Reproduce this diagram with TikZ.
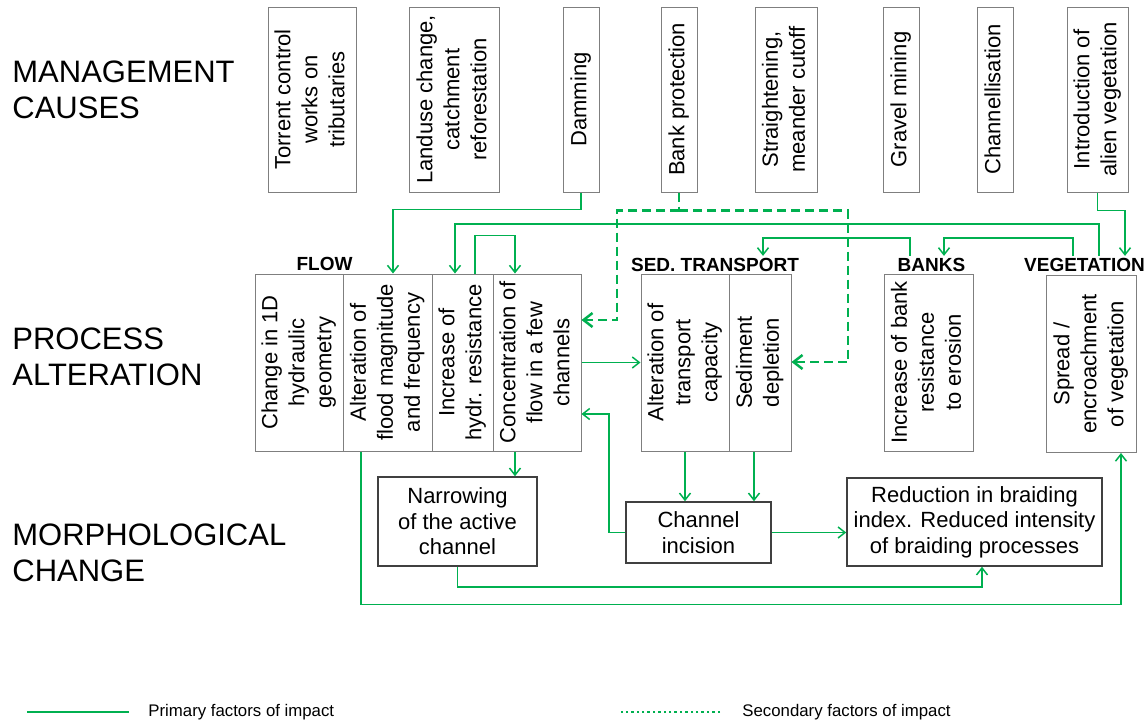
\documentclass[tikz,border=0pt]{standalone}
\usepackage{fontspec}
\setmainfont{Liberation Sans}
\usepackage{graphicx}
\usetikzlibrary{arrows.meta}

\definecolor{lgreen}{HTML}{00B050}
\definecolor{boxgray}{HTML}{7F7F7F}
\definecolor{boxdark}{HTML}{404040}

% texto vertical dentro de las cajas
\newcommand{\vtext}[1]{\rotatebox{90}{\begin{tabular}{@{}c@{}}#1\end{tabular}}}

\begin{document}
\begin{tikzpicture}[x=0.5pt, y=-0.5pt,
    cause/.style={draw=boxgray, line width=0.5pt, inner sep=0pt, minimum height=92.5pt,
        font=\fontsize{11}{13.5}\selectfont},
    proc/.style={cause, minimum height=88.5pt},
    morph/.style={draw=boxdark, line width=0.75pt, inner sep=0pt, align=center,
        font=\fontsize{11}{12.75}\selectfont},
    head/.style={inner sep=1pt, font=\fontsize{9.5}{11}\selectfont\bfseries},
    side/.style={anchor=west, align=left, inner sep=0pt, font=\fontsize{15.5}{18}\selectfont},
    legend/.style={anchor=west, inner sep=0pt, font=\fontsize{8.4}{10}\selectfont},
    prim/.style={draw=lgreen, line width=0.75pt, -{Straight Barb[length=3.5pt,width=5.5pt]}},
    sec/.style={draw=lgreen, line width=1.25pt, dash pattern=on 4.5pt off 2.5pt,
        -{Straight Barb[length=4.5pt,width=7pt]}}]

    \useasboundingbox (0,0) rectangle (1147,724);

    % Etiquetas de la izquierda
    \node[side] (lblmgmt) at (12,89.5) {MANAGEMENT\\CAUSES};
    \node[side] (lblproc) at (12,356.5) {PROCESS\\ALTERATION};
    \node[side] (lblmorph) at (12,553) {MORPHOLOGICAL\\CHANGE};

    % Causas de gestion
    \node[cause, minimum width=44pt] (torrent) at (312,99.5) {\vtext{Torrent control\\works on\\tributaries}};
    \node[cause, minimum width=45pt] (landuse) at (454,99.5) {\vtext{Landuse change,\\catchment\\reforestation}};
    \node[cause, minimum width=18pt] (damming) at (581,99.5) {\vtext{Damming}};
    \node[cause, minimum width=18pt] (bankprot) at (679,99.5) {\vtext{Bank protection}};
    \node[cause, minimum width=31pt] (straight) at (786,99.5) {\vtext{Straightening,\\meander cutoff}};
    \node[cause, minimum width=18pt] (gravel) at (901,99.5) {\vtext{Gravel mining}};
    \node[cause, minimum width=18pt] (channel) at (995,99.5) {\vtext{Channellisation}};
    \node[cause, minimum width=30.5pt] (alien) at (1097.5,99.5) {\vtext{Introduction of\\alien vegetation}};

    % Titulos de grupo
    \node[head] (flow) at (324.5,264) {FLOW};
    \node[head] (sedtr) at (715,265) {SED. TRANSPORT};
    \node[head] (banks) at (931.5,265) {BANKS};
    \node[head] (vegetation) at (1084.5,265) {VEGETATION};

    % Alteracion de procesos
    \node[proc, minimum width=44pt] (geom) at (299,362.5) {\vtext{Change in 1D\\hydraulic\\geometry}};
    \node[proc, minimum width=44.5pt] (flood) at (387.5,362.5) {\vtext{Alteration of\\flood magnitude\\and frequency}};
    \node[proc, minimum width=30.5pt] (hydr) at (462.5,362.5) {\vtext{Increase of\\hydr. resistance}};
    \node[proc, minimum width=44pt] (conc) at (537,362.5) {\vtext{Concentration of\\flow in a few\\channels}};
    \node[proc, minimum width=44pt] (transp) at (685,362.5) {\vtext{Alteration of\\transport\\capacity}};
    \node[proc, minimum width=31pt] (depl) at (760,362.5) {\vtext{Sediment\\depletion}};
    \node[proc, minimum width=44.5pt] (bank) at (928.5,362.5) {\vtext{Increase of bank\\resistance\\to erosion}};
    \node[proc, minimum width=45pt] (veg) at (1091,364) {\vtext{Spread /\\encroachment\\of vegetation}};

    % Cambios morfologicos
    \node[morph, minimum width=79.5pt, minimum height=44.5pt] (narrow) at (457.5,521.5) {Narrowing\\of the active\\channel};
    \node[morph, minimum width=72.5pt, minimum height=30.5pt] (incision) at (698.5,532.5) {Channel\\incision};
    \node[morph, minimum width=127.5pt, minimum height=44pt] (reduction) at (974.5,522) {Reduction in braiding\\index. Reduced intensity\\of braiding processes};

    % Conexiones desde las causas
    \draw[prim] (damming.south) -- ++(0,17) -| ([xshift=2.75pt]flood.north);
    \draw[prim] ([xshift=7.25pt]vegetation.north) -- ++(0,-32) -| ([xshift=-3.75pt]hydr.north);
    \draw[prim] ([xshift=6.25pt]hydr.north) -- ++(0,-38) -| ([xshift=-11pt]conc.north);
    \draw[prim] (alien.south) -- ++(0,18) -| ([xshift=20.25pt]vegetation.north);
    \draw[prim] ([xshift=-10.75pt]banks.north) -- ++(0,-18) -| ([xshift=24pt]sedtr.north);
    \draw[prim] ([xshift=-5.75pt]vegetation.north) -- ++(0,-18) -| ([xshift=6.25pt]banks.north);

    % Factores secundarios
    \draw[sec, -] (bankprot.south) -- ++(0,18) coordinate (bpsplit);
    \coordinate (dl) at (617,320);
    \coordinate (dr) at (848,362);
    \draw[sec] (bpsplit) -| (dl) -- (dl -| conc.east);
    \draw[sec] (bpsplit) -| (dr) -- (dr -| depl.east);

    % Entre procesos y cambios
    \draw[prim] (conc.east) -- (transp.west);
    \coordinate (ic) at (609,414);
    \draw[prim] (incision.west) -| (ic) -- (ic -| conc.east);
    \draw[prim] (incision.east) -- (incision.east -| reduction.west);
    \draw[prim] (transp.south) -- (transp.south |- incision.north);
    \draw[prim] ([xshift=-3pt]depl.south) coordinate (dd) -- (dd |- incision.north);
    \draw[prim] ([xshift=-11pt]conc.south) coordinate (cn) -- (cn |- narrow.north);
    \draw[prim] (narrow.south) -- ++(0,20) -| ([xshift=3.75pt]reduction.south);
    \draw[prim] ([xshift=-13.25pt]flood.south) -- ++(0,153) -| ([xshift=15pt]veg.south);

    % Leyenda
    \node[legend] (lgprim) at (148,712) {Primary factors of impact};
    \node[legend] (lgsec) at (742,712) {Secondary factors of impact};
    \draw[lgreen, line width=1pt] ([xshift=-9.5pt]lgprim.west) -- ++(-102,0);
    \draw[lgreen, line width=1.2pt, dash pattern=on 1.2pt off 1.5pt] ([xshift=-11pt]lgsec.west) -- ++(-99,0);
\end{tikzpicture}
\end{document}
